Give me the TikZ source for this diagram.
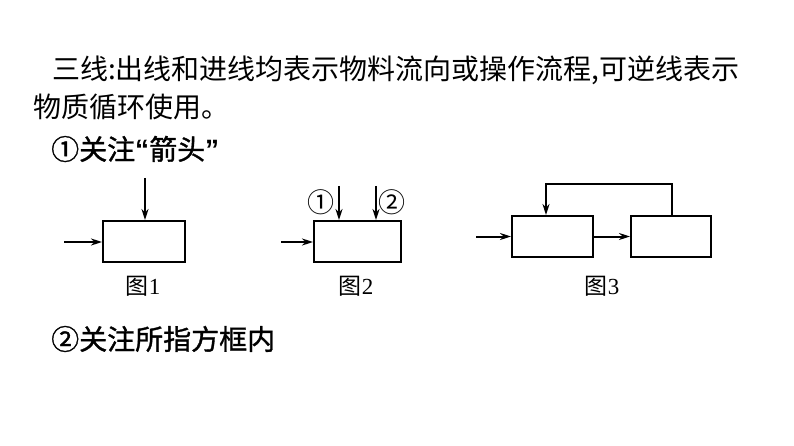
\documentclass[tikz,border=0pt]{standalone}
\usepackage{fontspec}
\usetikzlibrary{arrows.meta}
\newfontfamily\cjk{Noto Sans CJK SC}
\newfontfamily\cjkb[FakeBold=1.2]{Noto Sans CJK SC}
\newfontfamily\serifdigits{Liberation Serif}
\newfontfamily\quotefont{Liberation Sans}
\begin{document}
\begin{tikzpicture}[x=1pt,y=-1pt,
  txt/.style={inner sep=0pt,anchor=west,font=\cjk\fontsize{28}{30}\selectfont},
  boldtxt/.style={txt,font=\cjkb\fontsize{28}{30}\selectfont},
  caption/.style={inner sep=0pt,font=\fontsize{23}{25}\selectfont},
  box/.style={draw,line width=2pt,minimum height=41pt,inner sep=0pt},
  flow/.style={line width=2pt,-{Stealth[length=11pt,width=7pt]}}]
\useasboundingbox (0,0) rectangle (794,446);
% texts
\node[txt] (t1) at (52,70) {三线:出线和进线均表示物料流向或操作流程,可逆线表示};
\node[txt] (t2) at (33,107) {物质循环使用。};
\node[boldtxt] (t3) at (51,149) {①关注{\quotefont\bfseries “}箭头{\quotefont\bfseries ”}};
\node[boldtxt] (t4) at (51,339) {②关注所指方框内};
% figure 1
\node[box,minimum width=82pt] (b1) at (144,241.5) {};
\coordinate (f1top) at (145,178);
\coordinate (f1left) at (64,242);
\draw[flow] (f1top) -- (f1top |- b1.north);
\draw[flow] (f1left) -- (f1left -| b1.west);
\node[caption] (c1) at (143,286) {{\cjk 图}{\serifdigits 1}};
% figure 2
\node[box,minimum width=87pt] (b2) at (357.5,241.5) {};
\coordinate (f2a) at (339,186);
\coordinate (f2b) at (376,186);
\coordinate (f2left) at (281,242);
\draw[flow] (f2a) -- (f2a |- b2.north);
\draw[flow] (f2b) -- (f2b |- b2.north);
\draw[flow] (f2left) -- (f2left -| b2.west);
\node[caption,font=\cjk\fontsize{27}{29}\selectfont] (n1) at (321,202) {①};
\node[caption,font=\cjk\fontsize{27}{29}\selectfont] (n2) at (392,202) {②};
\node[caption] (c2) at (356,286) {{\cjk 图}{\serifdigits 2}};
% figure 3
\node[box,minimum width=81pt] (b3) at (552.5,236.5) {};
\node[box,minimum width=80pt] (b4) at (671,236.5) {};
\coordinate (f3left) at (476,236.5);
\draw[flow] (f3left) -- (b3.west);
\draw[flow] (b3.east) -- (b4.west);
\coordinate (up) at (672,184);
\coordinate (back) at (546,184);
\draw[flow] (up |- b4.north) -- (up) -- (back) -- (back |- b3.north);
\node[caption] (c3) at (602,286) {{\cjk 图}{\serifdigits 3}};
\end{tikzpicture}
\end{document}
